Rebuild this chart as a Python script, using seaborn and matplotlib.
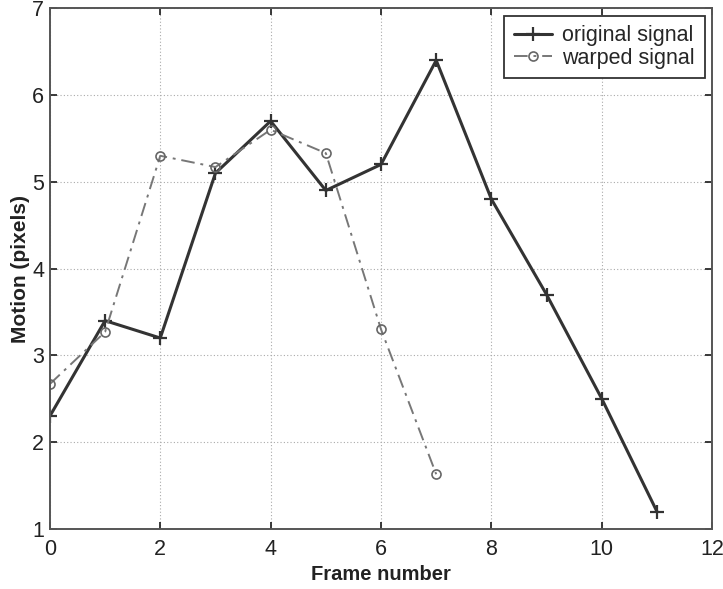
import numpy as np
import pandas as pd
import matplotlib
matplotlib.use("Agg")
import matplotlib.pyplot as plt
import seaborn as sns

frames_orig = [0, 1, 2, 3, 4, 5, 6, 7, 8, 9, 10, 11]
original_signal = [2.3, 3.4, 3.2, 5.1, 5.7, 4.9, 5.2, 6.4, 4.8, 3.7, 2.5, 1.2]
frames_warp = [0, 1, 2, 3, 4, 5, 6, 7]
warped_signal = [2.67, 3.27, 5.30, 5.17, 5.60, 5.33, 3.30, 1.63]
x_ticks = [0, 2, 4, 6, 8, 10, 12]
y_ticks = [1, 2, 3, 4, 5, 6, 7]

sns.set_theme(style="white")
plt.rcParams['font.family'] = ['Liberation Sans', 'DejaVu Sans']

df_o = pd.DataFrame({"frame": frames_orig, "motion": original_signal})
df_w = pd.DataFrame({"frame": frames_warp, "motion": warped_signal})

fig = plt.figure(figsize=(7.23, 5.89), dpi=100)
ax = fig.add_axes([0.069, 0.102, 0.916, 0.884])

sns.lineplot(data=df_o, x="frame", y="motion", ax=ax, color="#333333",
             linewidth=2.2, marker="+", markersize=10, markeredgewidth=1.6,
             markeredgecolor="#333333", label="original signal")
sns.lineplot(data=df_w, x="frame", y="motion", ax=ax, color="#777777",
             linewidth=1.4, marker="o", markersize=6.5, markerfacecolor="none",
             markeredgewidth=1.2, markeredgecolor="#666666",
             label="warped signal")
ax.lines[1].set_dashes([7, 3, 1.5, 3])

ax.set_xlim(0, 12)
ax.set_ylim(1, 7)
ax.set_xticks(x_ticks)
ax.set_yticks(y_ticks)
ax.tick_params(direction="in", length=5, labelsize=15.5, colors="#222222",
               top=True, right=True, bottom=True, left=True)
ax.tick_params(axis="x", pad=7)
ax.tick_params(axis="y", pad=4)
ax.grid(True, linestyle=(0, (1, 2)), color="#aaaaaa", linewidth=0.8)
for s in ax.spines.values():
    s.set_color("#555555")
    s.set_linewidth(1.4)

lab_font = dict(family=['Liberation Sans', 'DejaVu Sans'],
                weight="bold", size=14.5, color="#222222")
ax.set_xlabel("Frame number", fontdict=lab_font, labelpad=4)
ax.set_ylabel("Motion (pixels)", fontdict=dict(lab_font, size=15), labelpad=1.5)

leg = ax.legend(loc="upper right", fontsize=15.5, frameon=True, fancybox=False,
                edgecolor="#333333", framealpha=1, handlelength=1.75,
                handletextpad=0.5, borderaxespad=0.35, labelspacing=0.05,
                borderpad=0.45)
leg.get_frame().set_linewidth(1.3)

fig.savefig("out.png", dpi=100)
